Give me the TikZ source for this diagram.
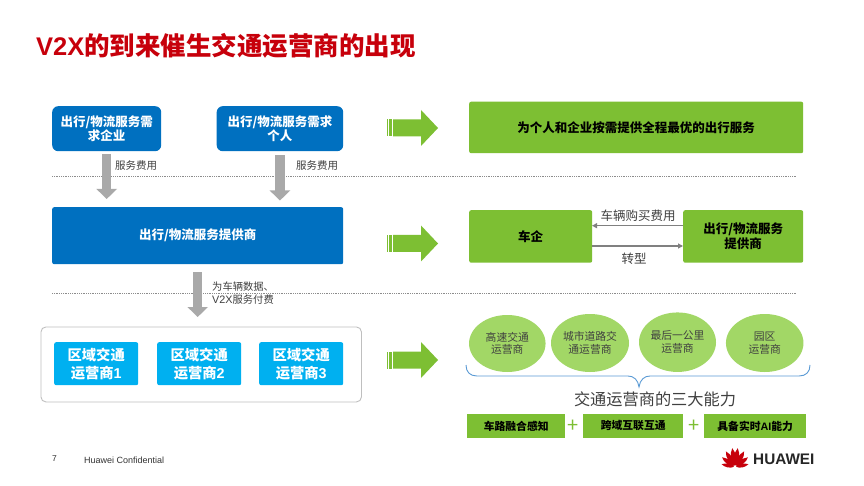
\documentclass[tikz,border=0pt]{standalone}
\usepackage{fontspec}
\setmainfont{Noto Sans CJK SC}
\newfontfamily\la{Liberation Sans}
\usetikzlibrary{arrows.meta,shapes.geometric}
\definecolor{hwblue}{HTML}{0070C0}
\definecolor{hwcyan}{HTML}{00B0F0}
\definecolor{hwgreen}{HTML}{7DBF33}
\definecolor{hwlight}{HTML}{A2D766}
\definecolor{hwred}{HTML}{C7000B}
\definecolor{hwtext}{HTML}{404040}
\definecolor{hwarrow}{HTML}{A9A9A9}
\definecolor{hwbrace}{HTML}{5B9BD5}
\newcommand{\fs}[2]{\fontsize{#1}{#2}\selectfont}
\tikzset{
  x=1pt,y=-1pt,
  box/.style={inner sep=0pt,align=center,anchor=north west},
  bluebox/.style={box,fill=hwblue,text=white,font=\fs{12.5}{14.5}\bfseries},
  cyanbox/.style={box,fill=hwcyan,text=white,rounded corners=2pt,minimum width=84pt,minimum height=43pt,font=\fs{14.3}{18}\bfseries},
  greenbox/.style={box,fill=hwgreen,text=black,rounded corners=2pt,font=\fs{12.5}{15}\bfseries},
  capbox/.style={box,fill=hwgreen,text=black,minimum height=23.5pt,font=\fs{10.8}{13}\bfseries},
  oval/.style={ellipse,fill=hwlight,text=hwtext,inner sep=0pt,align=center,font=\fs{10.8}{12.7}},
  lbl/.style={text=hwtext,inner sep=0pt,align=center},
  dots/.style={draw=black!45,line width=0.9pt,dash pattern=on 0.9pt off 0.9pt},
  block/.style={draw=hwarrow,line width=9.5pt,-{Triangle[width=20pt,length=10pt]}},
  thin arrow/.style={draw=gray,line width=1.1pt,-{Triangle[width=5pt,length=5pt]}},
  plus/.style={text=hwgreen,inner sep=0pt,font=\fs{20}{20}},
  greenarrow/.pic={
    \fill[hwgreen] (393,-8.5) -- (421,-8.5) -- (421,-18) -- (438,0) -- (421,18) -- (421,8.5) -- (393,8.5) -- cycle;
    \fill[hwgreen] (387,-8.5) rectangle (388,8.5);
    \fill[hwgreen] (389,-8.5) rectangle (391.5,8.5);
  },
  petal/.pic={
    \fill[hwred] (0,-1.5) .. controls (-4.2,-6) and (-3.6,-13) .. (-0.6,-19) .. controls (3.2,-14) and (3.2,-6) .. (0,-1.5) -- cycle;
  },
}
\begin{document}
\begin{tikzpicture}
\useasboundingbox (0,0) rectangle (864,486);
\fill[white] (0,0) rectangle (864,486);
% title
\node[anchor=west,inner sep=0pt,text=hwred] (title) at (36,46) {\fs{25.5}{30}\bfseries{\la V2X}的到来催生交通运营商的出现};
% dotted rules
\coordinate (d1a) at (52,176); \coordinate (d1b) at (797,176);
\coordinate (d2a) at (52,293); \coordinate (d2b) at (797,293);
\draw[dots] (d1a) -- (d1b);
\draw[dots] (d2a) -- (d2b);
% left column
\node[bluebox,rounded corners=6pt,minimum width=109pt,minimum height=45pt,text width=100pt] (a) at (52,106) {出行/物流服务需\\求企业};
\node[bluebox,rounded corners=6pt,minimum width=126.5pt,minimum height=45pt] (b) at (216.5,106) {出行/物流服务需求\\个人};
\node[bluebox,rounded corners=2pt,minimum width=291pt,minimum height=57pt] (c) at (52,207) {出行/物流服务提供商};
\node[box,draw=black!25,line width=0.9pt,rounded corners=5pt,minimum width=320.5pt,minimum height=75pt] (outer) at (40.5,326.5) {};
\node[cyanbox] (r1) at (54,342) {区域交通\\运营商{\la 1}};
\node[cyanbox] (r2) at (157,342) {区域交通\\运营商{\la 2}};
\node[cyanbox] (r3) at (259,342) {区域交通\\运营商{\la 3}};
% grey flow arrows
\draw[block,shorten <=3pt,shorten >=8pt] (a.south) -- (a.south |- c.north);
\draw[block,shorten <=4pt,shorten >=6.5pt] (b.south) -- (b.south |- c.north);
\draw[block,shorten <=8pt,shorten >=9.5pt] (c.south) -- (c.south |- outer.north);
\node[lbl,anchor=center,font=\fs{10.5}{13}] (l1) at (136,165.5) {服务费用};
\node[lbl,anchor=center,font=\fs{10.5}{13}] (l2) at (317,165.5) {服务费用};
\node[lbl,anchor=west,align=left,font=\fs{10.3}{13}] (l3) at (212,293.5) {为车辆数据、\\{\la\fs{10.8}{13}V2X}服务付费};
% green arrows
\pic at (0,128) {greenarrow};
\pic at (0,243.5) {greenarrow};
\pic at (0,360) {greenarrow};
% right column
\node[greenbox,minimum width=334pt,minimum height=51.5pt] (g1) at (469,101.5) {为个人和企业按需提供全程最优的出行服务};
\node[greenbox,minimum width=123pt,minimum height=52.5pt] (g2) at (469,210) {车企};
\node[greenbox,minimum width=120pt,minimum height=52.5pt] (g3) at (683,210) {出行/物流服务\\提供商};
\coordinate (g2t) at (592,225.7); \coordinate (g3t) at (683,225.7);
\coordinate (g2b) at (592,246); \coordinate (g3b) at (683,246);
\draw[thin arrow] (g3t) -- (g2t);
\draw[thin arrow] (g2b) -- (g3b);
\node[lbl,font=\fs{12.5}{14}] (l4) at (638,216) {车辆购买费用};
\node[lbl,font=\fs{12.5}{14}] (l5) at (634,259) {转型};
% ovals
\node[oval,minimum width=76.5pt,minimum height=57pt] (e1) at (507.3,343.5) {高速交通\\运营商};
\node[oval,minimum width=78pt,minimum height=58pt] (e2) at (590,343) {城市道路交\\通运营商};
\node[oval,minimum width=77pt,minimum height=59.5pt] (e3) at (677.5,342.2) {最后一公里\\运营商};
\node[oval,minimum width=77.5pt,minimum height=58pt] (e4) at (764.7,343) {园区\\运营商};
% brace
\draw[draw=hwbrace,line width=0.9pt] (466,365) .. controls (466,372) and (470,376) .. (477,376) -- (628,376) .. controls (634,376) and (638,380) .. (639,387) .. controls (640,380) and (644,376) .. (650,376) -- (799,376) .. controls (806,376) and (810,372) .. (810,365);
\node[lbl,font=\fs{16.2}{18}] (cap) at (655,399) {交通运营商的三大能力};
% capability boxes
\node[capbox,minimum width=98pt] (k1) at (467,414) {车路融合感知};
\node[capbox,minimum width=100pt] (k2) at (583,414) {跨域互联互通};
\node[capbox,minimum width=102pt] (k3) at (704,414) {具备实时{\la AI}能力};
\node[plus] (p1) at (573,426.5) {+};
\node[plus] (p2) at (694,426.5) {+};
% footer
\node[anchor=west,inner sep=0pt,text=black!80] (pg) at (52,458.5) {\la\fs{8.5}{10}7};
\node[anchor=west,inner sep=0pt,text=black!80] (conf) at (84,460) {\la\fs{9}{10}Huawei Confidential};
% logo
\foreach \ang/\sc in {80/0.72,55/0.85,32/0.95,10/1}{
  \pic[rotate=-\ang,scale=\sc] at (735,467) {petal};
  \pic[rotate=\ang,scale=\sc,xscale=-1] at (735,467) {petal};
}
\node[anchor=west,inner sep=0pt,text=black!85] (hw) at (753,459) {\la\fs{15.3}{17}\bfseries HUAWEI};
\end{tikzpicture}
\end{document}
